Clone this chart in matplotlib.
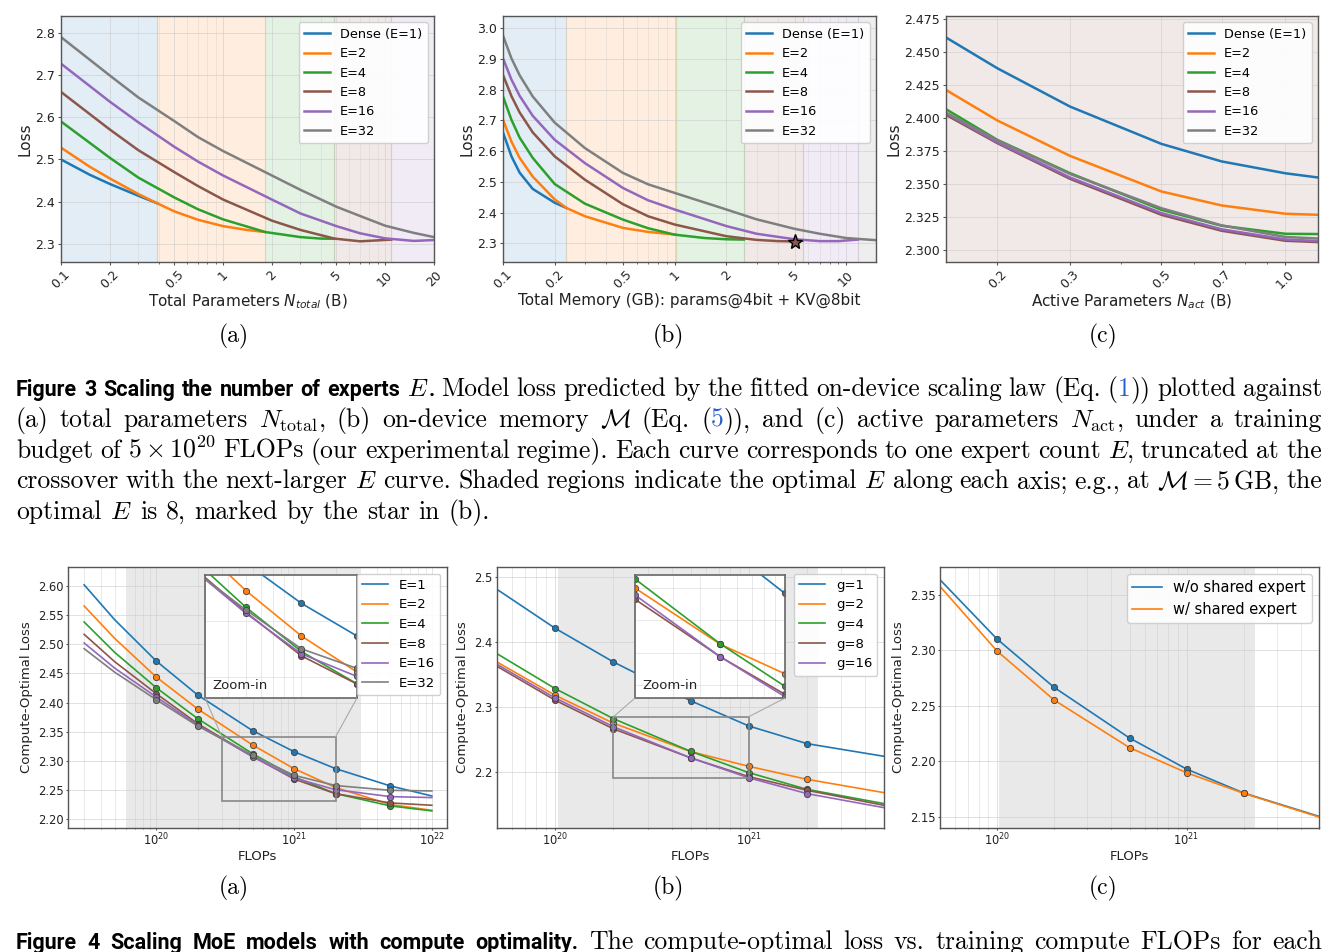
import numpy as np
import matplotlib
matplotlib.use('Agg')
import matplotlib.pyplot as plt
from matplotlib import font_manager as fm
from matplotlib.patches import ConnectionPatch, Rectangle
from matplotlib.ticker import NullFormatter, FormatStrFormatter

W, H = 1337, 952

# ---------------- data: Figure 3 ----------------
expert_labels = ['Dense (E=1)', 'E=2', 'E=4', 'E=8', 'E=16', 'E=32']
expert_colors = ['#1f77b4', '#ff7f0e', '#2ca02c', '#8c564b', '#9467bd', '#7f7f7f']

# (a) loss vs total parameters (B), each curve cut at crossover with next E
ntot_e1 = [0.1, 0.15, 0.2, 0.3, 0.393]
ntot_e2 = [0.1, 0.15, 0.2, 0.3, 0.393, 0.5, 0.7, 1.0, 1.4, 1.82]
ntot_e4 = [0.1, 0.2, 0.3, 0.5, 0.7, 1.0, 1.82, 3.0, 4.0, 4.86]
ntot_e8 = [0.1, 0.2, 0.3, 0.5, 0.7, 1.0, 2.0, 3.0, 4.86, 7.0, 10.9]
ntot_e16 = [0.1, 0.2, 0.3, 0.5, 0.7, 1.0, 2.0, 3.0, 5.0, 7.0, 10.0, 15.0, 20.0]
ntot_e32 = [0.1, 0.2, 0.3, 0.5, 0.7, 1.0, 2.0, 3.0, 5.0, 7.0, 10.0, 15.0, 20.0]
loss_ntot_e1 = [2.500, 2.464, 2.442, 2.414, 2.396]
loss_ntot_e2 = [2.528, 2.483, 2.455, 2.418, 2.396, 2.377, 2.357, 2.342, 2.333, 2.328]
loss_ntot_e4 = [2.590, 2.504, 2.457, 2.410, 2.382, 2.358, 2.328, 2.316, 2.3125, 2.312]
loss_ntot_e8 = [2.660, 2.571, 2.522, 2.470, 2.437, 2.405, 2.355, 2.333, 2.3125, 2.306, 2.310]
loss_ntot_e16 = [2.727, 2.637, 2.588, 2.530, 2.495, 2.462, 2.405, 2.372, 2.342, 2.325, 2.313, 2.307, 2.309]
loss_ntot_e32 = [2.790, 2.699, 2.647, 2.591, 2.553, 2.520, 2.462, 2.428, 2.388, 2.366, 2.343, 2.326, 2.316]
ntot_bounds = [0.1, 0.393, 1.82, 4.86, 10.9, 20.0]

# (b) loss vs total memory (GB)
mem_e1 = [0.1, 0.112, 0.125, 0.149, 0.2, 0.234]
mem_e2 = [0.1, 0.112, 0.125, 0.149, 0.2, 0.234, 0.3, 0.5, 0.7, 1.02]
mem_e4 = [0.1, 0.112, 0.125, 0.149, 0.2, 0.3, 0.5, 0.7, 1.0, 1.5, 2.0, 2.53]
mem_e8 = [0.1, 0.112, 0.125, 0.149, 0.2, 0.3, 0.5, 0.7, 1.0, 2.0, 3.0, 4.0, 5.0, 5.56]
mem_e16 = [0.1, 0.112, 0.125, 0.149, 0.2, 0.3, 0.5, 0.7, 1.0, 2.0, 3.0, 5.0, 7.0, 9.0, 11.7]
mem_e32 = [0.1, 0.112, 0.125, 0.149, 0.2, 0.3, 0.5, 0.7, 1.0, 2.0, 3.0, 5.0, 7.0, 10.0, 14.9]
loss_mem_e1 = [2.661, 2.583, 2.530, 2.477, 2.432, 2.415]
loss_mem_e2 = [2.702, 2.631, 2.578, 2.517, 2.443, 2.415, 2.388, 2.350, 2.337, 2.328]
loss_mem_e4 = [2.778, 2.702, 2.644, 2.578, 2.493, 2.429, 2.377, 2.349, 2.328, 2.317, 2.313, 2.312]
loss_mem_e8 = [2.848, 2.779, 2.726, 2.661, 2.583, 2.507, 2.427, 2.388, 2.361, 2.323, 2.311, 2.307, 2.306, 2.308]
loss_mem_e16 = [2.902, 2.833, 2.780, 2.715, 2.637, 2.561, 2.480, 2.440, 2.410, 2.356, 2.331, 2.313, 2.307, 2.307, 2.312]
loss_mem_e32 = [2.976, 2.902, 2.847, 2.778, 2.693, 2.610, 2.529, 2.492, 2.464, 2.410, 2.378, 2.347, 2.331, 2.317, 2.310]
mem_bounds = [0.1, 0.234, 1.02, 2.53, 5.56, 11.7, 14.9]
star_mem = [5.0]
star_loss = [2.305]

# (c) loss vs active parameters (B)
nact = [0.15, 0.2, 0.3, 0.5, 0.7, 1.0, 1.2]
loss_nact_e1 = [2.461, 2.4376, 2.4086, 2.3803, 2.367, 2.358, 2.3548]
loss_nact_e2 = [2.4212, 2.398, 2.3712, 2.3442, 2.3336, 2.3273, 2.3265]
loss_nact_e4 = [2.4066, 2.3833, 2.3581, 2.3303, 2.3182, 2.3121, 2.3119]
loss_nact_e8 = [2.4023, 2.3808, 2.3538, 2.3265, 2.3144, 2.3068, 2.3058]
loss_nact_e16 = [2.4035, 2.3815, 2.3548, 2.3278, 2.3155, 2.3078, 2.3066]
loss_nact_e32 = [2.4040, 2.3830, 2.3575, 2.3315, 2.3185, 2.3097, 2.3085]

# ---------------- data: Figure 4 ----------------
# (a) number of experts
flops_a = [3e19, 5e19, 1e20, 2e20, 5e20, 1e21, 2e21, 5e21, 1e22]
copt_e1 = [2.602, 2.542, 2.4713, 2.4129, 2.3517, 2.3157, 2.2865, 2.2568, 2.2396]
copt_e2 = [2.5657, 2.510, 2.4438, 2.3889, 2.3271, 2.2865, 2.2542, 2.2248, 2.2150]
copt_e4 = [2.5382, 2.486, 2.4255, 2.3723, 2.3122, 2.2726, 2.2437, 2.2225, 2.2139]
copt_e8 = [2.517, 2.470, 2.4152, 2.3637, 2.3077, 2.2687, 2.2435, 2.2276, 2.2236]
copt_e16 = [2.5022, 2.459, 2.4095, 2.3614, 2.3068, 2.2705, 2.2503, 2.2385, 2.2368]
copt_e32 = [2.4924, 2.452, 2.4049, 2.3597, 2.3098, 2.2750, 2.2575, 2.2493, 2.2482]
labels_a = ['E=1', 'E=2', 'E=4', 'E=8', 'E=16', 'E=32']

# (b) granularity
flops_b = [5e19, 1e20, 2e20, 5e20, 1e21, 2e21, 5e21]
copt_g1 = [2.481, 2.421, 2.3692, 2.3097, 2.2708, 2.2436, 2.2241]
copt_g2 = [2.3692, 2.318, 2.2750, 2.2315, 2.2087, 2.1887, 2.1682]
copt_g4 = [2.382, 2.3282, 2.282, 2.2318, 2.199, 2.1733, 2.1513]
copt_g8 = [2.3626, 2.3103, 2.2663, 2.2218, 2.1928, 2.1718, 2.1487]
copt_g16 = [2.3656, 2.3138, 2.2696, 2.2218, 2.1910, 2.1667, 2.1451]
labels_b = ['g=1', 'g=2', 'g=4', 'g=8', 'g=16']
colors_b = ['#1f77b4', '#ff7f0e', '#2ca02c', '#8c564b', '#9467bd']

# (c) shared expert
flops_c = [5e19, 1e20, 2e20, 5e20, 1e21, 2e21, 5e21]
copt_noshared = [2.3638, 2.3103, 2.2667, 2.2210, 2.1930, 2.1714, 2.1503]
copt_shared = [2.3578, 2.2995, 2.2553, 2.2123, 2.1897, 2.1711, 2.1497]
labels_c = ['w/o shared expert', 'w/ shared expert']
colors_c = ['#1f77b4', '#ff7f0e']


def pick_family(cands, default='DejaVu Sans'):
    for f in cands:
        try:
            fm.findfont(fm.FontProperties(family=f), fallback_to_default=False)
            return f
        except ValueError:
            continue
    return default


SERIF = pick_family(['cmr10', 'DejaVu Serif'])
SANS_B = pick_family(['Roboto', 'Open Sans', 'Lato', 'Noto Sans'])

plt.rcParams.update({
    'axes.edgecolor': '#555555',
    'axes.linewidth': 1.0,
    'xtick.color': '#555555',
    'ytick.color': '#555555',
    'xtick.labelcolor': '#222222',
    'ytick.labelcolor': '#222222',
    'axes.labelcolor': '#222222',
})

fig = plt.figure(figsize=(W / 100, H / 100), dpi=100)


def px_axes(l, t, r, b):
    return fig.add_axes([l / W, 1 - b / H, (r - l) / W, (b - t) / H])


# --- Figure 3 panels ---
def draw_top(ax, xs, ys, bounds, span_colors, xlim, ylim, xticks, xticklabels,
             yticks, yfmt, xlabel, minor_grid=True):
    for x0, x1, c in zip(bounds[:-1], bounds[1:], span_colors):
        ax.axvspan(x0, x1, color=c, alpha=0.13, lw=0.8)
    for x, y, c, lab in zip(xs, ys, expert_colors, expert_labels):
        ax.plot(x, y, color=c, lw=1.8, label=lab)
    ax.set_xscale('log')
    ax.set_xlim(*xlim)
    ax.set_ylim(*ylim)
    ax.set_xticks(xticks)
    ax.set_xticklabels(xticklabels)
    ax.xaxis.set_minor_formatter(NullFormatter())
    ax.set_yticks(yticks)
    ax.yaxis.set_major_formatter(FormatStrFormatter(yfmt))
    ax.tick_params(axis='x', labelrotation=45)
    ax.tick_params(labelsize=9, length=2.5, pad=2)
    ax.tick_params(which='minor', length=1.5)
    ax.grid(True, which='major', color='#cccccc', alpha=0.6, lw=0.7)
    if minor_grid:
        ax.grid(True, which='minor', axis='x', color='#cccccc', alpha=0.4, lw=0.6)
    ax.set_xlabel(xlabel, fontsize=11, labelpad=1)
    ax.set_ylabel('Loss', fontsize=11, labelpad=2)
    ax.legend(loc='upper right', fontsize=9.3, framealpha=0.9)


ax = px_axes(61, 16, 434, 262)
draw_top(ax,
         [ntot_e1, ntot_e2, ntot_e4, ntot_e8, ntot_e16, ntot_e32],
         [loss_ntot_e1, loss_ntot_e2, loss_ntot_e4, loss_ntot_e8, loss_ntot_e16, loss_ntot_e32],
         ntot_bounds, expert_colors[:5], (0.1, 20), (2.257, 2.840),
         [0.1, 0.2, 0.5, 1, 2, 5, 10, 20], ['0.1', '0.2', '0.5', '1', '2', '5', '10', '20'],
         [2.3, 2.4, 2.5, 2.6, 2.7, 2.8], '%.1f', r'Total Parameters $N_{total}$ (B)')

ax = px_axes(503, 16, 876, 262)
draw_top(ax,
         [mem_e1, mem_e2, mem_e4, mem_e8, mem_e16, mem_e32],
         [loss_mem_e1, loss_mem_e2, loss_mem_e4, loss_mem_e8, loss_mem_e16, loss_mem_e32],
         mem_bounds, expert_colors, (0.1, 14.9), (2.239, 3.040),
         [0.1, 0.2, 0.5, 1, 2, 5, 10], ['0.1', '0.2', '0.5', '1', '2', '5', '10'],
         [2.3, 2.4, 2.5, 2.6, 2.7, 2.8, 2.9, 3.0], '%.1f',
         'Total Memory (GB): params@4bit + KV@8bit')
ax.plot(star_mem, star_loss, marker='*', ms=11, color='#8c564b', mec='black', mew=1.0,
        ls='none', zorder=5)

ax = px_axes(946, 16, 1318, 262)
draw_top(ax, [nact] * 6,
         [loss_nact_e1, loss_nact_e2, loss_nact_e4, loss_nact_e8, loss_nact_e16, loss_nact_e32],
         [0.15, 1.2], [expert_colors[3]], (0.15, 1.2), (2.2907, 2.4773),
         [0.2, 0.3, 0.5, 0.7, 1.0], ['0.2', '0.3', '0.5', '0.7', '1.0'],
         [2.300, 2.325, 2.350, 2.375, 2.400, 2.425, 2.450, 2.475], '%.3f',
         r'Active Parameters $N_{act}$ (B)', minor_grid=False)


# --- Figure 4 panels ---
def draw_series(ax, x, ys, colors, labels, pts, lw=1.2):
    x = np.array(x)
    for y, c, lab in zip(ys, colors, labels):
        y = np.array(y)
        ax.plot(x, y, color=c, lw=lw, label=lab)
        ax.plot(x[pts], y[pts], 'o', ms=4.5, color=c, mec='#404040', mew=0.6)


def draw_bottom(ax, x, ys, colors, labels, pts, span, xlim, ylim, yticks, yfmt, leg_size=9.5):
    ax.axvspan(*span, color='#e9e9e9', lw=0, zorder=0)
    draw_series(ax, x, ys, colors, labels, pts)
    ax.set_xscale('log')
    ax.set_xlim(*xlim)
    ax.set_ylim(*ylim)
    ax.set_yticks(yticks)
    ax.yaxis.set_major_formatter(FormatStrFormatter(yfmt))
    ax.xaxis.set_minor_formatter(NullFormatter())
    ax.tick_params(labelsize=8.3, length=1.5, pad=1.5)
    ax.tick_params(which='minor', length=1)
    ax.grid(True, which='major', color='#cccccc', alpha=0.6, lw=0.7)
    ax.grid(True, which='minor', axis='x', color='#cccccc', alpha=0.5, lw=0.6)
    ax.set_xlabel('FLOPs', fontsize=9.5, labelpad=1)
    ax.set_ylabel('Compute-Optimal Loss', fontsize=9.5, labelpad=4)
    ax.legend(loc='upper right', fontsize=leg_size, framealpha=0.9)


def add_zoom(ax, bounds, x, ys, colors, pts, region):
    x0, x1, y0, y1 = region
    axins = ax.inset_axes(bounds)
    draw_series(axins, x, ys, colors, [None] * len(ys), pts)
    axins.set_xscale('log')
    axins.set_xlim(x0, x1)
    axins.set_ylim(y0, y1)
    axins.tick_params(which='both', bottom=False, left=False, labelbottom=False, labelleft=False)
    axins.grid(True, which='both', color='#cccccc', alpha=0.5, lw=0.6)
    for s in axins.spines.values():
        s.set_edgecolor('#666666')
        s.set_linewidth(1.2)
    axins.text(0.05, 0.07, 'Zoom-in', transform=axins.transAxes, fontsize=9.5, color='#222222')
    ax.add_patch(Rectangle((x0, y0), x1 - x0, y1 - y0, fill=False, ec='#888888', lw=1.2, zorder=4))
    for cx, bx in [(0, x0), (1, x1)]:
        fig.add_artist(ConnectionPatch(xyA=(cx, 0), coordsA=axins.transAxes, xyB=(bx, y1),
                                       coordsB=ax.transData, color='#aaaaaa', lw=0.8))


ys_a = [copt_e1, copt_e2, copt_e4, copt_e8, copt_e16, copt_e32]
ax = px_axes(68, 567, 447, 828)
draw_bottom(ax, flops_a, ys_a, expert_colors, labels_a, slice(2, 8), (6.1e19, 3.0e21),
            (10 ** 19.36, 10 ** 22.11), (2.1846, 2.6326),
            [2.20, 2.25, 2.30, 2.35, 2.40, 2.45, 2.50, 2.55, 2.60], '%.2f')
add_zoom(ax, [0.3615, 0.498, 0.401, 0.471], flops_a, ys_a, expert_colors, slice(2, 8),
         (3e20, 2e21, 2.231, 2.341))

ys_b = [copt_g1, copt_g2, copt_g4, copt_g8, copt_g16]
ax = px_axes(497, 567, 884, 828)
draw_bottom(ax, flops_b, ys_b, colors_b, labels_b, slice(1, 6), (1.03e20, 2.29e21),
            (5e19, 5e21), (2.1138, 2.5154), [2.2, 2.3, 2.4, 2.5], '%.1f')
add_zoom(ax, [0.3566, 0.498, 0.3876, 0.471], flops_b, ys_b, colors_b, slice(1, 6),
         (2e20, 1e21, 2.19, 2.285))

ax = px_axes(940, 567, 1319, 828)
draw_bottom(ax, flops_c, [copt_noshared, copt_shared], colors_c, labels_c, slice(1, 6),
            (1.025e20, 2.30e21), (5e19, 5e21), (2.1398, 2.3753),
            [2.15, 2.20, 2.25, 2.30, 2.35], '%.2f', leg_size=10.5)

# --- captions ---
CAP = 18.5
R = {'family': SERIF, 'math_fontfamily': 'cm', 'fontsize': CAP}
L = {'family': SERIF, 'math_fontfamily': 'cm', 'fontsize': CAP, 'color': '#2b5fd0'}
B = {'family': SANS_B, 'weight': 'bold', 'fontsize': 15.5}


def plain(s, st):
    return [[(w, st)] for w in s.split()]


def place_line(words, y_px, justify=True, x0=16, x1=1322):
    r = fig.canvas.get_renderer()
    placed = [[(fig.text(0, 1 - y_px / H, s, va='baseline', ha='left', **st), st is not B)
               for s, st in word] for word in words]

    def widths():
        return [[t.get_window_extent(renderer=r).width for t, _ in parts] for parts in placed]

    ws = widths()
    total = sum(map(sum, ws))
    space = CAP * 100 / 72 * 0.333
    avail = (x1 - x0) - (len(words) - 1) * 0.8 * space
    if justify and total > avail:
        fixed = sum(w for parts, pw in zip(placed, ws) for (t, s), w in zip(parts, pw) if not s)
        f = (avail - fixed) / (total - fixed)
        for parts in placed:
            for t, s in parts:
                if s:
                    t.set_fontsize(t.get_fontsize() * f)
        ws = widths()
        total = sum(map(sum, ws))
    gap = (x1 - x0 - total) / (len(words) - 1) if justify else space
    x = x0
    for parts, pw in zip(placed, ws):
        for (t, _), w in zip(parts, pw):
            t.set_x(x / W)
            x += w
        x += gap


for cx, lab in [(234, '(a)'), (668, '(b)'), (1103, '(c)')]:
    fig.text(cx / W, 1 - 336 / H, lab, ha='center', va='center', **dict(R, fontsize=17))
    fig.text(cx / W, 1 - 888 / H, lab, ha='center', va='center', **dict(R, fontsize=17))

cap = [
    plain('Figure 3 Scaling the number of experts', B) + [[('$E$', R), ('.', B)]]
    + plain('Model loss predicted by the fitted on-device scaling law (Eq.', R)
    + [[('(', R), ('1', L), ('))', R)]] + plain('plotted against', R),
    plain('(a) total parameters', R) + [[(r'$N_{\mathrm{total}}$,', R)]]
    + plain('(b) on-device memory', R) + [[(r'$\mathcal{M}$', R)]] + plain('(Eq.', R)
    + [[('(', R), ('5', L), (')),', R)]] + plain('and (c) active parameters', R)
    + [[(r'$N_{\mathrm{act}}$,', R)]] + plain('under a training', R),
    plain('budget of', R) + [[(r'$5\times10^{20}$', R)]]
    + plain('FLOPs (our experimental regime). Each curve corresponds to one expert count', R)
    + [[('$E$,', R)]] + plain('truncated at the', R),
    plain('crossover with the next-larger', R) + [[('$E$', R)]]
    + plain('curve. Shaded regions indicate the optimal', R) + [[('$E$', R)]]
    + plain('along each axis; e.g., at', R) + [[(r'$\mathcal{M}=5\,$GB,', R)]] + plain('the', R),
]
for i, words in enumerate(cap):
    place_line(words, 396 + 30.8 * i)
place_line(plain('optimal', R) + [[('$E$', R)]] + plain('is 8, marked by the star in (b).', R),
           396 + 30.8 * 4, justify=False)
place_line(plain('Figure 4 Scaling MoE models with compute optimality.', B)
           + plain('The compute-optimal loss vs. training compute FLOPs for each', R), 949)

fig.savefig('out.png', dpi=100)
